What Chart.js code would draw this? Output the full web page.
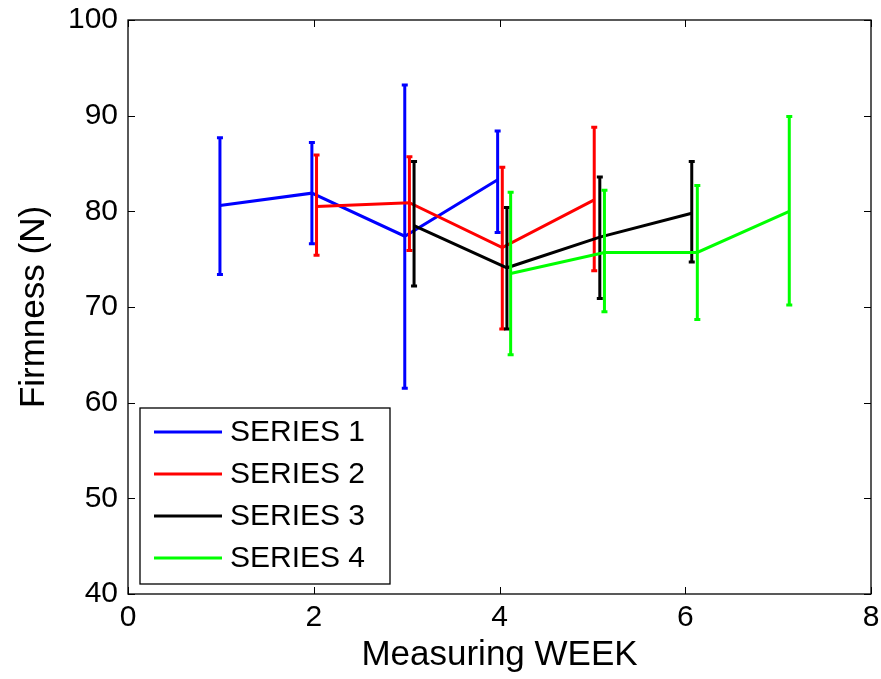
<!DOCTYPE html>
<html>
<head>
<meta charset="utf-8">
<script src="https://cdn.jsdelivr.net/npm/chart.js@4.4.1/dist/chart.umd.min.js"></script>
<style>
  html, body { margin: 0; padding: 0; background: #fff; }
  #wrap { width: 881px; height: 679px; }
</style>
</head>
<body>
<div id="wrap"><canvas id="chartFirmness" width="881" height="679"></canvas></div>
<script>
// values
const seriesNames = ['SERIES 1', 'SERIES 2', 'SERIES 3', 'SERIES 4'];
const seriesColors = ['#0000ff', '#ff0000', '#000000', '#00ff00'];

const weeks1 = [0.99, 1.98, 2.98, 3.98];
const firm1  = [80.6, 81.9, 77.4, 83.3];
const hi1    = [87.7, 87.2, 93.2, 88.4];
const lo1    = [73.4, 76.6, 61.5, 77.8];

const weeks2 = [2.03, 3.03, 4.03, 5.02];
const firm2  = [80.5, 80.9, 76.2, 81.2];
const hi2    = [85.9, 85.7, 84.6, 88.8];
const lo2    = [75.4, 75.9, 67.7, 73.8];

const weeks3 = [3.08, 4.08, 5.08, 6.07];
const firm3  = [78.5, 74.1, 77.3, 79.8];
const hi3    = [85.2, 80.4, 83.6, 85.2];
const lo3    = [72.2, 67.7, 70.9, 74.7];

const weeks4 = [4.12, 5.13, 6.13, 7.12];
const firm4  = [73.5, 75.7, 75.7, 80.0];
const hi4    = [82.0, 82.2, 82.7, 89.9];
const lo4    = [65.0, 69.5, 68.7, 70.2];

const xTicks = [0, 2, 4, 6, 8];
const yTicks = [40, 50, 60, 70, 80, 90, 100];

const FONT = '"Liberation Sans", Arial, Helvetica, sans-serif';

function toPoints(xs, ys) {
    return xs.map((x, i) => ({ x: x, y: ys[i] }));
}

const allWeeks = [weeks1, weeks2, weeks3, weeks4];
const allFirm = [firm1, firm2, firm3, firm4];
const allHi = [hi1, hi2, hi3, hi4];
const allLo = [lo1, lo2, lo3, lo4];

// error bars drawn right after each line, through the chart scales
const errorBarPlugin = {
    id: 'errorBars',
    afterDatasetDraw(chart, args) {
        const i = args.index;
        const ctx = chart.ctx;
        const xs = chart.scales.x, ys = chart.scales.y;
        ctx.save();
        ctx.strokeStyle = seriesColors[i];
        ctx.lineWidth = 3;
        ctx.lineCap = 'butt';
        allWeeks[i].forEach((w, k) => {
            const px = xs.getPixelForValue(w);
            const top = ys.getPixelForValue(allHi[i][k]);
            const bot = ys.getPixelForValue(allLo[i][k]);
            ctx.beginPath();
            ctx.moveTo(px, top);
            ctx.lineTo(px, bot);
            ctx.moveTo(px - 3, top);
            ctx.lineTo(px + 3, top);
            ctx.moveTo(px - 3, bot);
            ctx.lineTo(px + 3, bot);
            ctx.stroke();
        });
        ctx.restore();
    }
};

// matlab style box with inward ticks on all four sides + legend box
const boxPlugin = {
    id: 'boxAxes',
    afterDraw(chart) {
        const ctx = chart.ctx;
        const a = chart.chartArea;
        const xs = chart.scales.x, ys = chart.scales.y;
        const tl = 7;
        ctx.save();
        ctx.strokeStyle = '#000';
        ctx.lineWidth = 1.3;
        ctx.strokeRect(a.left, a.top, a.right - a.left, a.bottom - a.top);
        ctx.lineWidth = 1;
        ctx.beginPath();
        xTicks.forEach(v => {
            const px = Math.round(xs.getPixelForValue(v)) + 0.5;
            ctx.moveTo(px, a.bottom); ctx.lineTo(px, a.bottom - tl);
            ctx.moveTo(px, a.top); ctx.lineTo(px, a.top + tl);
        });
        yTicks.forEach(v => {
            const py = Math.round(ys.getPixelForValue(v)) + 0.5;
            ctx.moveTo(a.left, py); ctx.lineTo(a.left + tl, py);
            ctx.moveTo(a.right, py); ctx.lineTo(a.right - tl, py);
        });
        ctx.stroke();

        // legend
        const lx = 140, ly = 408, lw = 250, lh = 176;
        ctx.fillStyle = '#fff';
        ctx.fillRect(lx, ly, lw, lh);
        ctx.lineWidth = 1.3;
        ctx.strokeStyle = '#000';
        ctx.strokeRect(lx, ly, lw, lh);
        ctx.font = '30px ' + FONT;
        ctx.textBaseline = 'middle';
        ctx.textAlign = 'left';
        chart.data.datasets.forEach((ds, i) => {
            const y = 432 + i * 42;
            ctx.strokeStyle = ds.borderColor;
            ctx.lineWidth = 3;
            ctx.beginPath();
            ctx.moveTo(154, y);
            ctx.lineTo(222, y);
            ctx.stroke();
            ctx.fillStyle = '#000';
            ctx.fillText(ds.label, 230, y + 1);
        });
        ctx.restore();
    }
};

const ctx = document.getElementById('chartFirmness').getContext('2d');
const myChart = new Chart(ctx, {
    type: 'line',
    data: {
        datasets: seriesNames.map((name, i) => ({
            label: name,
            data: toPoints(allWeeks[i], allFirm[i]),
            borderColor: seriesColors[i],
            backgroundColor: seriesColors[i],
            borderWidth: 3,
            pointRadius: 0,
            tension: 0,
            fill: false,
            order: 3 - i
        }))
    },
    options: {
        responsive: false,
        animation: false,
        layout: { padding: { top: 20, right: 10, left: 0, bottom: 0 } },
        scales: {
            x: {
                type: 'linear',
                min: 0,
                max: 8,
                afterBuildTicks: s => { s.ticks = xTicks.map(v => ({ value: v })); },
                afterFit: s => { s.height = 85; s.paddingLeft = 0; s.paddingRight = 0; },
                grid: { display: false, drawTicks: false },
                border: { display: false },
                ticks: { color: '#000', padding: 6, font: { family: FONT, size: 30 } },
                title: {
                    display: true,
                    text: 'Measuring WEEK',
                    color: '#000',
                    font: { family: FONT, size: 35 },
                    padding: { bottom: 3 }
                }
            },
            y: {
                min: 40,
                max: 100,
                afterBuildTicks: s => { s.ticks = yTicks.map(v => ({ value: v })); },
                afterFit: s => { s.width = 128; s.paddingTop = 0; s.paddingBottom = 0; },
                grid: { display: false, drawTicks: false },
                border: { display: false },
                ticks: { color: '#000', padding: 10, font: { family: FONT, size: 30 } },
                title: {
                    display: true,
                    text: 'Firmness (N)',
                    color: '#000',
                    font: { family: FONT, size: 35 },
                    padding: { top: 13 }
                }
            }
        },
        plugins: {
            legend: { display: false },
            tooltip: { enabled: false }
        }
    },
    plugins: [errorBarPlugin, boxPlugin]
});
</script>
</body>
</html>
